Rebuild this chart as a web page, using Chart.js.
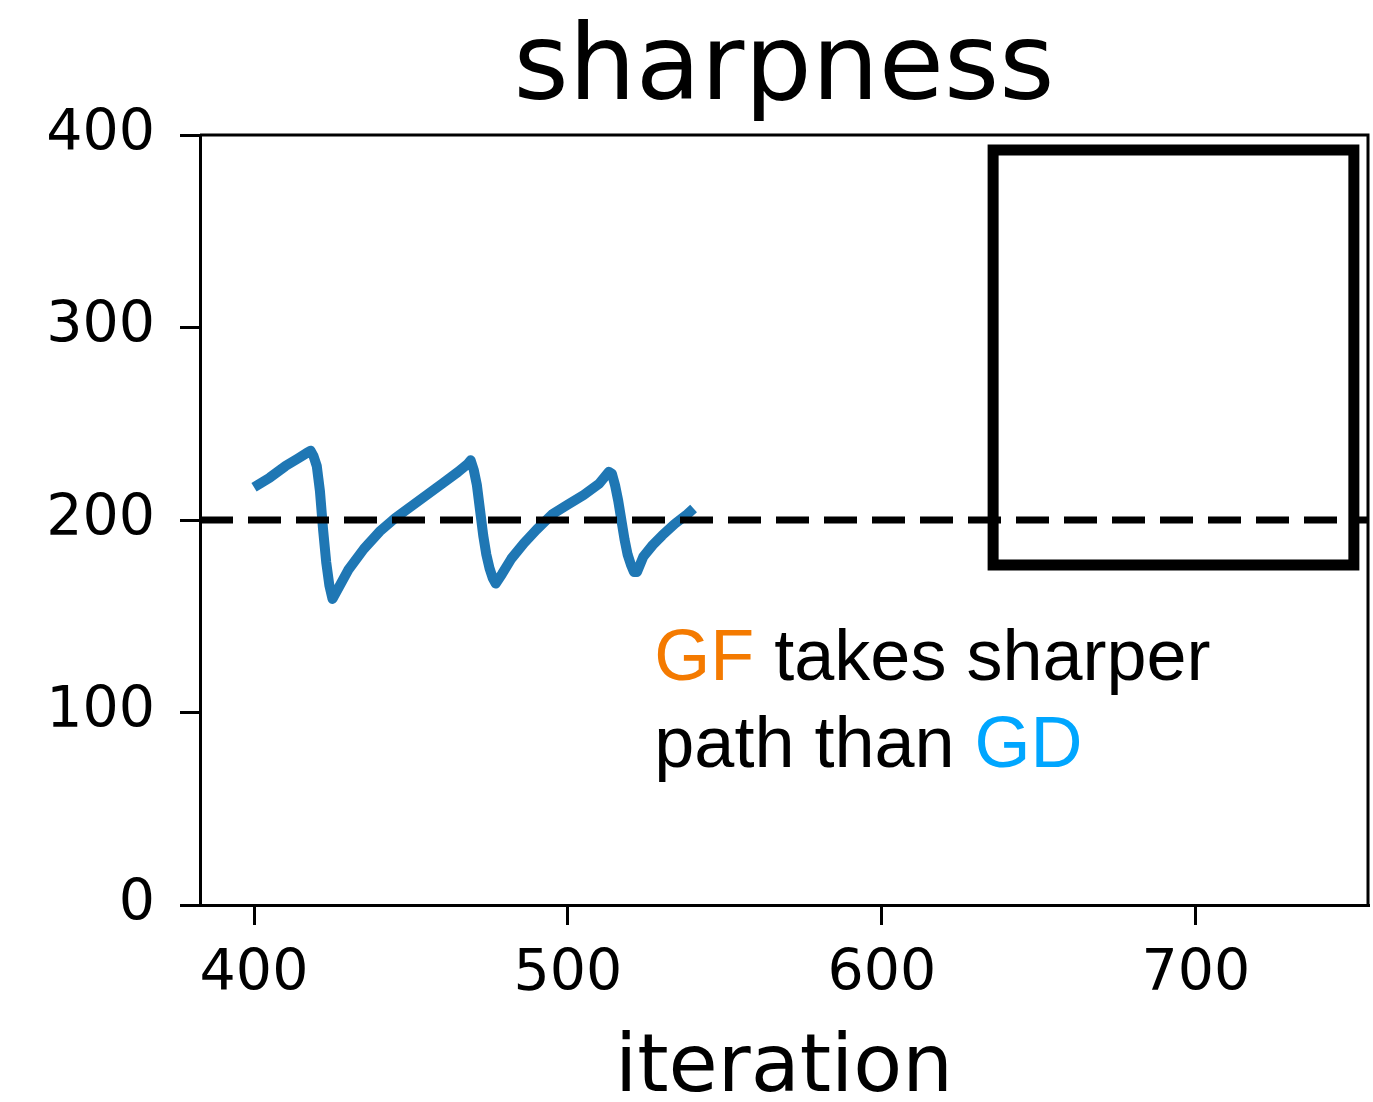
<!DOCTYPE html>
<html>
<head>
<meta charset="utf-8">
<script src="https://cdn.jsdelivr.net/npm/chart.js@4.4.0/dist/chart.umd.min.js"></script>
<style>
  html, body { margin: 0; padding: 0; background: #fff; }
  #wrap { width: 1373px; height: 1102px; }
</style>
</head>
<body>
<div id="wrap"><canvas id="chart" width="1373" height="1102"></canvas></div>
<script>
// sharpness of GD
const iterations = [400, 405, 410, 414, 417, 418, 419, 420, 421, 422, 423, 424, 425, 427, 430, 435, 440, 445, 450, 455, 460, 465, 468, 469,
                    470, 471, 472, 473, 474, 475, 476, 477, 479, 482, 486, 490, 495, 500, 505, 510, 513,
                    514, 515, 516, 517, 518, 519, 520, 521, 522, 524, 527, 530, 534, 538, 540];
const sharpness = [217, 222, 228, 232, 235, 236, 233, 228, 215, 195, 178, 166, 159, 165, 174, 185, 194, 201, 207, 213, 219, 225, 229, 231,
                   226, 218, 205, 192, 182, 175, 170, 167, 172, 180, 188, 195, 203, 208, 213, 219, 225,
                   224, 218, 210, 200, 190, 182, 177, 173, 173, 181, 187, 192, 198, 203, 206];

const xRange = [382.8, 754.8];
const yRange = [0, 400];
const xTicks = [400, 500, 600, 700];
const threshold = 200;              // 2 / eta
const boxX = [635.4, 750.3];        // highlighted window
const boxY = [176.6, 392.2];

const annotLines = [
  [{ text: "GF", color: "#f47a00" }, { text: " takes sharper", color: "#000" }],
  [{ text: "path than ", color: "#000" }, { text: "GD", color: "#00a6ff" }]
];
const annotAt = { x: 527.5, y: [116.9, 71.7] };

const ctx = document.getElementById("chart");

// top and right spines + annotation text
const extras = {
  id: "extras",
  afterDraw(chart) {
    const c = chart.ctx;
    const a = chart.chartArea;
    c.save();
    c.strokeStyle = "#000";
    c.lineWidth = 3;
    c.beginPath();
    c.moveTo(a.left, a.top);
    c.lineTo(a.right, a.top);
    c.lineTo(a.right, a.bottom);
    c.stroke();

    const xs = chart.scales.x, ys = chart.scales.y;
    c.font = "72px 'Liberation Sans', Arial, sans-serif";
    c.textBaseline = "alphabetic";
    c.textAlign = "left";
    annotLines.forEach((parts, i) => {
      let px = xs.getPixelForValue(annotAt.x);
      const py = ys.getPixelForValue(annotAt.y[i]);
      parts.forEach(p => {
        c.fillStyle = p.color;
        c.fillText(p.text, px, py);
        px += c.measureText(p.text).width;
      });
    });
    c.restore();
  }
};

new Chart(ctx, {
  type: "line",
  data: {
    datasets: [
      {
        label: "GD",
        data: iterations.map((x, i) => ({ x: x, y: sharpness[i] })),
        borderColor: "#1f77b4",
        borderWidth: 10,
        borderJoinStyle: "round",
        pointRadius: 0,
        tension: 0,
        order: 3
      },
      {
        label: "2/eta",
        data: [{ x: xRange[0], y: threshold }, { x: xRange[1], y: threshold }],
        borderColor: "#000",
        borderWidth: 7,
        borderDash: [33, 15],
        pointRadius: 0,
        order: 2
      },
      {
        label: "box",
        data: [
          { x: boxX[0], y: boxY[1] }, { x: boxX[1], y: boxY[1] },
          { x: boxX[1], y: boxY[0] }, { x: boxX[0], y: boxY[0] },
          { x: boxX[0], y: boxY[1] }
        ],
        borderColor: "#000",
        borderWidth: 11,
        borderJoinStyle: "miter",
        borderCapStyle: "square",
        pointRadius: 0,
        order: 1
      }
    ]
  },
  options: {
    responsive: false,
    animation: false,
    devicePixelRatio: 1,
    layout: { padding: { left: 0, right: 5, top: 0, bottom: 0 } },
    plugins: {
      legend: { display: false },
      tooltip: { enabled: false },
      title: {
        display: true,
        text: "sharpness",
        fullSize: false,
        color: "#000",
        font: { family: "'DejaVu Sans'", size: 106, weight: "normal", lineHeight: 1 },
        padding: { top: 18, bottom: 11 }
      }
    },
    scales: {
      x: {
        type: "linear",
        min: xRange[0],
        max: xRange[1],
        afterFit(scale) { scale.height = 197; },
        afterBuildTicks(scale) { scale.ticks = xTicks.map(v => ({ value: v })); },
        ticks: {
          includeBounds: false,
          color: "#000",
          padding: 16,
          maxRotation: 0,
          font: { family: "'DejaVu Sans'", size: 57 }
        },
        grid: { drawOnChartArea: false, tickLength: 20, color: "#000", lineWidth: 3 },
        border: { color: "#000", width: 3 },
        title: {
          display: true,
          text: "iteration",
          color: "#000",
          font: { family: "'DejaVu Sans'", size: 80, lineHeight: 0.8 },
          padding: { top: 0, bottom: 0 }
        }
      },
      y: {
        min: yRange[0],
        max: yRange[1],
        afterFit(scale) { scale.width = 200; },
        ticks: {
          stepSize: 100,
          color: "#000",
          padding: 25,
          font: { family: "'DejaVu Sans'", size: 57 }
        },
        grid: { drawOnChartArea: false, tickLength: 20, color: "#000", lineWidth: 3 },
        border: { color: "#000", width: 3 }
      }
    }
  },
  plugins: [extras]
});
</script>
</body>
</html>
